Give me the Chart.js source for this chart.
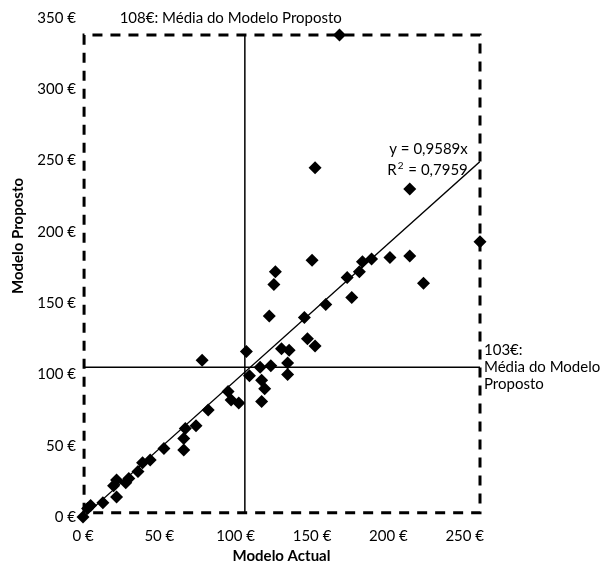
<!DOCTYPE html>
<html>
<head>
<meta charset="utf-8">
<script src="https://cdn.jsdelivr.net/npm/chart.js@4.4.1/dist/chart.umd.min.js"></script>
<style>
  html, body { margin: 0; padding: 0; background: #fff; }
  #wrap { width: 600px; height: 567px; }
</style>
</head>
<body>
<div id="wrap"><canvas id="c" width="600" height="567"></canvas></div>
<script>
// Modelo Actual (x) vs Modelo Proposto (y), in euros
const actual = [0, 3, 5, 13, 22, 20, 22, 28, 30, 36, 39, 44, 53, 66, 66, 67, 74, 82, 78,
  95, 97, 102, 107, 109, 116, 117, 119, 117, 123, 130, 135, 134, 134, 147, 152,
  122, 145, 159, 176, 125, 126, 150, 173, 181, 183, 189, 201, 214, 223, 214, 152, 260, 168];
const proposto = [0, 6, 8, 10, 14, 22, 26, 24, 27, 32, 38, 40, 48, 47, 55, 62, 64, 75, 110,
  88, 82, 80, 116, 99, 105, 96, 90, 81, 106, 118, 117, 108, 100, 125, 120,
  141, 140, 149, 154, 163, 172, 180, 168, 172, 179, 181, 182, 183, 164, 230, 245, 193, 338];

// trend line y = 0,9589x
const slope = 0.9589;
const r2 = 0.7959;

// means and the min/max box
const meanActual = 106;
const meanProposto = 105;
const boxX = [0.7, 0.7, 260, 260, 0.7];
const boxY = [3, 338, 338, 3, 3];

const xTicks = [0, 50, 100, 150, 200, 250];
const yTicks = [0, 50, 100, 150, 200, 250, 300, 350];

const FONT = "Lato, 'Open Sans', sans-serif";

const points = actual.map((v, i) => ({ x: v, y: proposto[i] }));
const trend = [{ x: 0, y: 0 }, { x: 260, y: slope * 260 }];
const box = boxX.map((v, i) => ({ x: v, y: boxY[i] }));
const vLine = [{ x: meanActual, y: boxY[0] }, { x: meanActual, y: boxY[1] }];
const hLine = [{ x: boxX[0], y: meanProposto }, { x: boxX[2], y: meanProposto }];

const comma = (v) => v.toString().replace(".", ",");

// texts drawn on the chart
const labelsPlugin = {
  id: "labels",
  afterDraw(chart) {
    const ctx = chart.ctx;
    const xs = chart.scales.x;
    const ys = chart.scales.y;
    ctx.save();
    ctx.fillStyle = "#000";
    ctx.font = "15px " + FONT;
    ctx.textBaseline = "middle";

    // top annotation
    ctx.textAlign = "left";
    ctx.fillText("108€: Média do Modelo Proposto", xs.getPixelForValue(24), ys.getPixelForValue(350));

    // right annotation, next to the horizontal mean line
    const ry = ys.getPixelForValue(meanProposto);
    const rx = chart.chartArea.right + 4;
    ctx.fillText("103€:", rx, ry - 17);
    ctx.fillText("Média do Modelo", rx, ry);
    ctx.fillText("Proposto", rx, ry + 17);

    // equation
    ctx.textAlign = "right";
    const ex = xs.getPixelForValue(252);
    const ey2 = ys.getPixelForValue(243);
    ctx.fillText("y = " + comma(slope) + "x", ex, ys.getPixelForValue(258));
    const rest = " = " + comma(r2);
    ctx.fillText(rest, ex, ey2);
    const w = ctx.measureText(rest).width;
    ctx.font = "10px " + FONT;
    const ws = ctx.measureText("2").width + 2;
    ctx.fillText("2", ex - w - 1, ey2 - 5);
    ctx.font = "15px " + FONT;
    ctx.fillText("R", ex - w - ws, ey2);

    // y axis title
    ctx.font = "bold 15px " + FONT;
    ctx.textAlign = "center";
    ctx.translate(18, 236);
    ctx.rotate(-Math.PI / 2);
    ctx.fillText("Modelo Proposto", 0, 0);
    ctx.restore();
  }
};

new Chart(document.getElementById("c"), {
  type: "scatter",
  data: {
    datasets: [
      {
        data: points,
        pointStyle: "rectRot",
        pointRadius: 6.5,
        backgroundColor: "#000",
        borderColor: "#000",
        borderWidth: 0,
        clip: false
      },
      {
        data: trend,
        showLine: true,
        pointRadius: 0,
        borderColor: "#000",
        borderWidth: 1.3
      },
      {
        data: box,
        showLine: true,
        pointRadius: 0,
        borderColor: "#000",
        borderWidth: 3,
        borderDash: [10, 8],
        clip: false
      },
      {
        data: vLine,
        showLine: true,
        pointRadius: 0,
        borderColor: "#000",
        borderWidth: 1.5
      },
      {
        data: hLine,
        showLine: true,
        pointRadius: 0,
        borderColor: "#000",
        borderWidth: 1.5
      }
    ]
  },
  options: {
    responsive: false,
    animation: false,
    layout: { padding: { left: 0, right: 120, top: 18, bottom: 0 } },
    plugins: {
      legend: { display: false },
      tooltip: { enabled: false }
    },
    scales: {
      x: {
        type: "linear",
        min: 0,
        max: 260,
        afterBuildTicks: (s) => { s.ticks = xTicks.map((v) => ({ value: v })); },
        afterFit: (s) => { s.height = 50; },
        grid: { display: false, drawTicks: false },
        border: { display: false },
        ticks: {
          padding: 10,
          color: "#000",
          font: { family: FONT, size: 15 },
          callback: (v) => v + " €"
        },
        title: {
          display: true,
          text: "Modelo Actual",
          color: "#000",
          font: { family: FONT, size: 15, weight: "bold" },
          padding: { top: 0, bottom: 2 }
        }
      },
      y: {
        type: "linear",
        min: 0,
        max: 350,
        afterBuildTicks: (s) => { s.ticks = yTicks.map((v) => ({ value: v })); },
        afterFit: (s) => { s.width = 83; },
        grid: { display: false, drawTicks: false },
        border: { display: false },
        ticks: {
          padding: 7,
          color: "#000",
          font: { family: FONT, size: 15 },
          callback: (v) => v + " €"
        }
      }
    }
  },
  plugins: [labelsPlugin]
});
</script>
</body>
</html>
